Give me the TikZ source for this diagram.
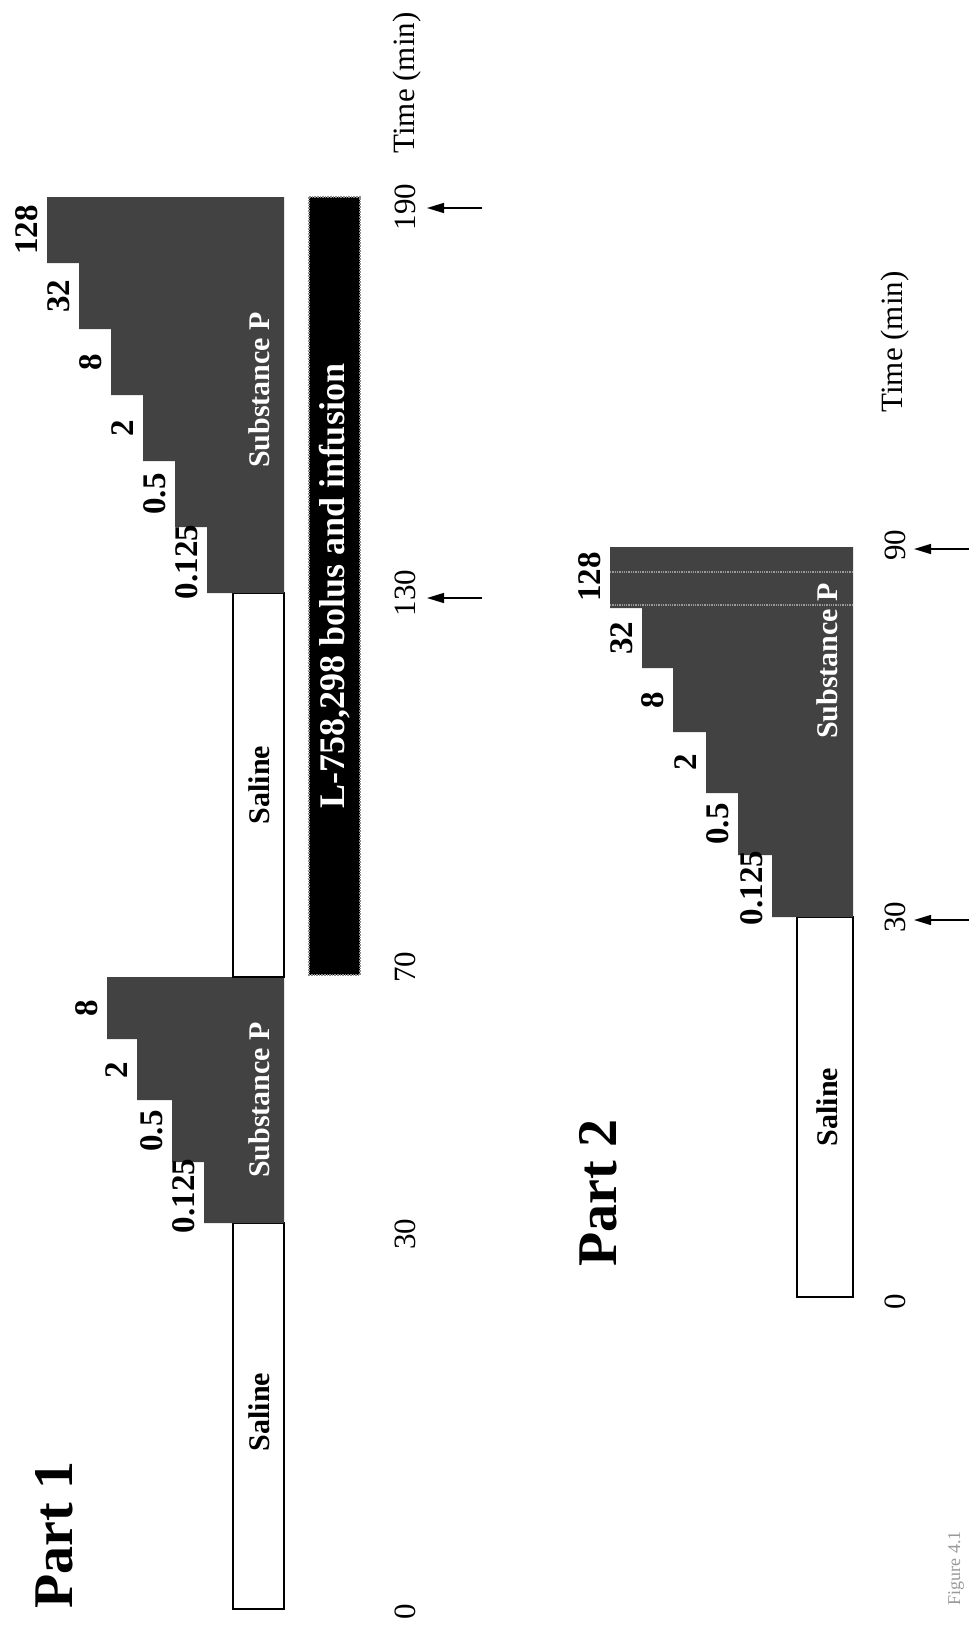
\documentclass[tikz,border=0pt]{standalone}
\usepackage{fontspec}
\setmainfont{Liberation Serif}
\usetikzlibrary{arrows.meta}
\tikzset{
  salinebox/.style = {draw=black, line width=1.6pt, fill=white},
  subpfill/.style  = {fill=black!74},
  drugbar/.style   = {draw=black!45, line width=1.6pt, densely dotted, fill=black},
  boxlabel/.style  = {rotate=90, inner sep=0pt, font=\fontsize{30}{30}\selectfont\bfseries},
  doselabel/.style = {rotate=90, anchor=south, inner sep=0pt, font=\fontsize{33}{33}\selectfont\bfseries},
  ticklabel/.style = {rotate=90, inner sep=0pt, font=\fontsize{31}{31}\selectfont},
  partlabel/.style = {rotate=90, inner sep=0pt, font=\fontsize{56}{56}\selectfont\bfseries},
  tarrow/.style    = {-{Triangle[length=17pt,width=10pt]}, line width=1.4pt}
}
\begin{document}
\begin{tikzpicture}[x=1pt, y=-1pt]
  \useasboundingbox (0,0) rectangle (969,1625);

  % Part 1
  \node[partlabel] (part1) at (54,1535) {Part 1};
  \draw[salinebox] (233,1223) rectangle (284,1609);
  \node[boxlabel] (sal1) at (259,1412) {Saline};
  \fill[subpfill] (284,977) -- (107,977) -- (107,1039) -- (137,1039) -- (137,1100)
    -- (172,1100) -- (172,1162) -- (204,1162) -- (204,1223) -- (284,1223) -- cycle;
  \node[boxlabel, text=white] (sp1) at (259,1100) {Substance P};
  \foreach \d/\x/\y [count=\i] in {8/107/1008, 2/137/1070, 0.5/172/1131, 0.125/204/1196}
    \node[doselabel] (da\i) at (\x-9,\y) {\d};

  \draw[salinebox] (233,593) rectangle (284,977);
  \node[boxlabel] (sal2) at (259,785) {Saline};
  \fill[subpfill] (284,197) -- (47,197) -- (47,263) -- (79,263) -- (79,329) -- (111,329)
    -- (111,395) -- (143,395) -- (143,461) -- (175,461) -- (175,527) -- (207,527)
    -- (207,593) -- (284,593) -- cycle;
  \node[boxlabel, text=white] (sp2) at (259,390) {Substance P};
  \foreach \d/\x/\y [count=\i] in {128/47/230, 32/79/296, 8/111/362, 2/143/428, 0.5/175/494, 0.125/207/562}
    \node[doselabel] (db\i) at (\x-9,\y) {\d};

  \draw[drugbar] (309,197) rectangle (360,975);
  \node[boxlabel, text=white, font=\fontsize{36}{36}\selectfont\bfseries] (drug) at (335,586) {L-758,298 bolus and infusion};

  \node[ticklabel] (t0)   at (405,1612) {0};
  \node[ticklabel] (t30)  at (405,1234) {30};
  \node[ticklabel] (t70)  at (405,967) {70};
  \node[ticklabel] (t130) at (405,593) {130};
  \node[ticklabel] (t190) at (405,207) {190};
  \node[ticklabel] (time1) at (407,83) {Time (min)};
  \coordinate (a130) at (482,598);  \coordinate (h130) at (427,598);
  \coordinate (a190) at (482,208);  \coordinate (h190) at (427,208);
  \draw[tarrow] (a130) -- (h130);
  \draw[tarrow] (a190) -- (h190);

  % Part 2
  \node[partlabel] (part2) at (598,1193) {Part 2};
  \draw[salinebox] (797,917) rectangle (853,1297);
  \node[boxlabel] (sal3) at (827,1107) {Saline};
  \fill[subpfill] (853,547) -- (610,547) -- (610,608) -- (642,608) -- (642,668) -- (673,668)
    -- (673,732) -- (706,732) -- (706,793) -- (738,793) -- (738,855) -- (772,855)
    -- (772,917) -- (853,917) -- cycle;
  \draw[black!40, densely dotted, line width=1.3pt] (610,572) -- (853,572) (610,605) -- (853,605);
  \node[boxlabel, text=white] (sp3) at (827,661) {Substance P};
  \foreach \d/\x/\y [count=\i] in {128/610/577, 32/642/638, 8/673/700, 2/706/762, 0.5/738/824, 0.125/772/888}
    \node[doselabel] (dc\i) at (\x-9,\y) {\d};

  \node[ticklabel] (u0)  at (895,1302) {0};
  \node[ticklabel] (u30) at (895,917) {30};
  \node[ticklabel] (u90) at (895,545) {90};
  \node[ticklabel] (time2) at (895,342) {Time (min)};
  \coordinate (b30) at (969,920);  \coordinate (k30) at (914,920);
  \coordinate (b90) at (969,549);  \coordinate (k90) at (914,549);
  \draw[tarrow] (b30) -- (k30);
  \draw[tarrow] (b90) -- (k90);

  \node[rotate=90, text=black!40, font=\fontsize{18}{18}\selectfont] (fig) at (956,1568) {Figure 4.1};
\end{tikzpicture}
\end{document}
